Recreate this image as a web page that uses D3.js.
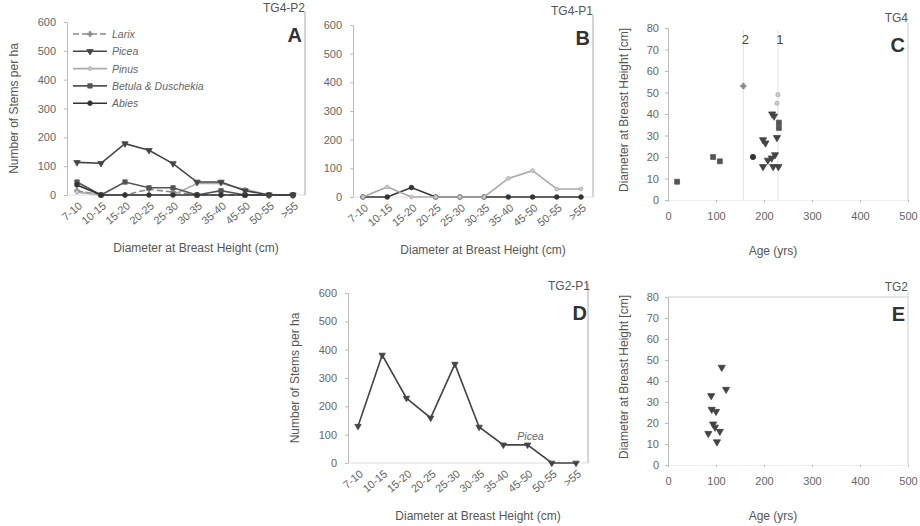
<!DOCTYPE html>
<html lang="en">
<head>
<meta charset="UTF-8">
<title>Stand structure TG4 / TG2</title>
<script src="https://d3js.org/d3.v7.min.js"></script>
<style>
  body { margin: 0; background: #fff; }
  svg text { font-family: "Liberation Sans", Arial, sans-serif; fill: #555; }
  .axis path, .axis line { stroke: #bbb; }
  .axis text { font-size: 11px; fill: #666; }
</style>
</head>
<body>
<div id="chart"></div>
<script>
// diameter classes (x categories of the line panels)
var sizeClasses = ["7-10", "10-15", "15-20", "20-25", "25-30", "30-35", "35-40", "45-50", "50-55", ">55"];
var stemTicks = [0, 100, 200, 300, 400, 500, 600];
var dbhTicks = [0, 10, 20, 30, 40, 50, 60, 70, 80];
var ageTicks = [0, 100, 200, 300, 400, 500];

// A: TG4-P2, stems per ha
var p2Larix  = [15, 0, 0, 20, 10, 0, 0, 0, 0, 0];
var p2Picea  = [113, 110, 178, 155, 109, 45, 45, 15, 0, 0];
var p2Pinus  = [10, 0, 0, 0, 0, 40, 40, 20, 0, 0];
var p2Betula = [45, 0, 45, 25, 25, 0, 15, 0, 0, 0];
var p2Abies  = [35, 0, 0, 0, 0, 0, 0, 0, 0, 0];

// B: TG4-P1
var p1Pinus = [0, 35, 0, 0, 0, 0, 65, 92, 28, 28];
var p1Abies = [0, 0, 33, 0, 0, 0, 0, 0, 0, 0];

// D: TG2-P1
var tg2Picea = [130, 381, 229, 159, 349, 127, 64, 64, 0, 0];

// C: TG4 age vs dbh
var tg4PiceaAge = [198, 203, 227, 198, 208, 216, 223, 219, 230, 217, 221];
var tg4PiceaDbh = [28, 26.5, 29, 15.5, 18.5, 19.5, 21, 15.5, 15.5, 40, 39];
var tg4BetulaAge = [19, 94, 108, 231, 231];
var tg4BetulaDbh = [8.5, 20, 18, 36, 33.5];
var tg4AbiesAge = [177];
var tg4AbiesDbh = [20];
var tg4PinusAge = [229, 227];
var tg4PinusDbh = [49, 45];
var tg4LarixAge = [157];
var tg4LarixDbh = [53];
var cohortAge = [157, 229];
var cohortLabel = ["2", "1"];

// E: TG2 age vs dbh
var tg2PiceaAge = [112, 121, 90, 91, 100, 94, 98, 84, 108, 102];
var tg2PiceaDbh = [46.5, 36, 33, 26.5, 25.5, 19.5, 18, 15, 16, 11];

var species = {
    Larix:  { color: "#888", dash: "6,3", symbol: d3.symbolCross, size: 16, fill: "#888", rot: 0 },
    Picea:  { color: "#444", dash: null, symbol: d3.symbolTriangle, size: 22, fill: "#444", rot: 180 },
    Pinus:  { color: "#aaa", dash: null, symbol: d3.symbolCircle, size: 14, fill: "#ccc", rot: 0 },
    Betula: { color: "#555", dash: null, symbol: d3.symbolSquare, size: 24, fill: "#555", rot: 0 },
    Abies:  { color: "#333", dash: null, symbol: d3.symbolCircle, size: 22, fill: "#333", rot: 0 }
}

var svg = d3.select("#chart").append("svg")
    .attr("width", 920)
    .attr("height", 526)

function label(x, y, tag, letter) {
    svg.append("text").attr("x", x).attr("y", y)
        .attr("text-anchor", "end").style("font-size", "12px").text(tag)
    svg.append("text").attr("x", x - 3).attr("y", y + 30)
        .attr("text-anchor", "end").style("font-size", "20px")
        .style("font-weight", "bold").style("fill", "#333").text(letter)
}

function marker(g, sp, x, y, k) {
    var s = species[sp]
    g.append("path")
        .attr("d", d3.symbol().type(s.symbol).size(s.size * (k || 1)))
        .attr("transform", "translate(" + x + "," + y + ") rotate(" + s.rot + ")")
        .attr("fill", s.fill)
        .attr("stroke", s.color)
        .attr("stroke-width", 0.8)
}

function linePanel(o) {
    var x = d3.scalePoint().domain(sizeClasses).range([o.x0 + 10, o.x1 - 12])
    var y = d3.scaleLinear().domain([0, 600]).range([o.y1, o.y0])
    var g = svg.append("g")

    g.append("g").attr("class", "axis")
        .attr("transform", "translate(" + o.x0 + ",0)")
        .call(d3.axisLeft(y).tickValues(stemTicks).tickSize(3).tickPadding(8))
    g.append("line").attr("x1", o.x0).attr("x2", o.x1).attr("y1", o.y1).attr("y2", o.y1)
        .attr("stroke", "#ddd")
    g.append("line").attr("x1", o.x1).attr("x2", o.x1).attr("y1", o.y0 - 10).attr("y2", o.y1)
        .attr("stroke", "#aaa")

    g.selectAll(".xl").data(sizeClasses).enter().append("text")
        .attr("text-anchor", "end")
        .attr("transform", function(d) { return "translate(" + (x(d) + 6) + "," + (o.y1 + 12) + ") rotate(-40)" })
        .style("font-size", "11px").style("fill", "#666")
        .text(function(d) { return d })

    o.series.forEach(function(s) {
        var sp = species[s.name]
        var line = d3.line().x(function(d, i) { return x(sizeClasses[i]) }).y(function(d) { return y(d) })
        g.append("path").datum(s.values)
            .attr("d", line).attr("fill", "none")
            .attr("stroke", sp.color).attr("stroke-width", 1.6)
            .attr("stroke-dasharray", sp.dash)
        s.values.forEach(function(v, i) { marker(g, s.name, x(sizeClasses[i]), y(v), 0.8) })
    })

    svg.append("text").attr("x", (o.x0 + o.x1) / 2 + 10).attr("y", o.y1 + 57)
        .attr("text-anchor", "middle").style("font-size", "12px").text("Diameter at Breast Height (cm)")
    if (o.ytitle) {
        svg.append("text").attr("transform", "translate(" + (o.x0 - 49) + "," + ((o.y0 + o.y1) / 2) + ") rotate(-90)")
            .attr("text-anchor", "middle").style("font-size", "12px").text("Number of Stems per ha")
    }
    return { x: x, y: y }
}

function scatterPanel(o) {
    var x = d3.scaleLinear().domain([0, 500]).range([o.x0, o.x1])
    var y = d3.scaleLinear().domain([0, 80]).range([o.y1, o.y0])
    var g = svg.append("g")

    if (o.cohorts) {
        o.cohorts.forEach(function(a, i) {
            g.append("line").attr("x1", x(a)).attr("x2", x(a)).attr("y1", o.y0 + 2).attr("y2", o.y1)
                .attr("stroke", "#e2e2e2")
            g.append("text").attr("x", x(a) + 2).attr("y", o.y0 + 16)
                .attr("text-anchor", "middle").style("font-size", "13px").style("fill", "#444")
                .text(cohortLabel[i])
        })
    }

    g.append("g").attr("class", "axis")
        .attr("transform", "translate(" + o.x0 + ",0)")
        .call(d3.axisLeft(y).tickValues(dbhTicks).tickSize(3).tickPadding(6))
    var xa = g.append("g").attr("class", "axis")
        .attr("transform", "translate(0," + o.y1 + ")")
        .call(d3.axisBottom(x).tickValues(ageTicks).tickSize(2).tickPadding(10))
    xa.select(".domain").style("stroke", "#eee")
    g.append("line").attr("x1", o.x1).attr("x2", o.x1).attr("y1", o.y0 - 5).attr("y2", o.y1)
        .attr("stroke", "#ccc")
    if (o.top) {
        g.append("line").attr("x1", o.x0).attr("x2", o.x1).attr("y1", o.y0).attr("y2", o.y0)
            .attr("stroke", "#ccc")
    }

    o.series.forEach(function(s) {
        s.age.forEach(function(a, i) { marker(g, s.name, x(a), y(s.dbh[i])) })
    })

    svg.append("text").attr("x", (o.x0 + o.x1) / 2 - 15).attr("y", o.y1 + 55)
        .attr("text-anchor", "middle").style("font-size", "12px").text("Age (yrs)")
    svg.append("text").attr("transform", "translate(" + (o.x0 - 40) + "," + ((o.y0 + o.y1) / 2 - 4) + ") rotate(-90)")
        .attr("text-anchor", "middle").style("font-size", "12px").text("Diameter at Breast Height [cm]")
}

// A
linePanel({ x0: 67, x1: 305, y0: 22, y1: 195, ytitle: true, series: [
    { name: "Larix", values: p2Larix },
    { name: "Pinus", values: p2Pinus },
    { name: "Betula", values: p2Betula },
    { name: "Abies", values: p2Abies },
    { name: "Picea", values: p2Picea }
] })
label(305, 12, "TG4-P2", "A")

// legend A
var legendNames = ["Larix", "Picea", "Pinus", "Betula", "Abies"]
var legendText = ["Larix", "Picea", "Pinus", "Betula & Duschekia", "Abies"]
legendNames.forEach(function(n, i) {
    var ly = 34 + i * 17.3
    var sp = species[n]
    svg.append("line").attr("x1", 73).attr("x2", 107).attr("y1", ly).attr("y2", ly)
        .attr("stroke", sp.color).attr("stroke-width", 1.6).attr("stroke-dasharray", sp.dash)
    marker(svg, n, 90, ly, 0.8)
    svg.append("text").attr("x", 112).attr("y", ly + 4)
        .style("font-size", "10.5px").style("font-style", "italic").style("fill", "#666")
        .text(legendText[i])
})

// B
linePanel({ x0: 353, x1: 593, y0: 25, y1: 197, ytitle: false, series: [
    { name: "Abies", values: p1Abies },
    { name: "Pinus", values: p1Pinus }
] })
label(593, 15, "TG4-P1", "B")

// C
scatterPanel({ x0: 668, x1: 908, y0: 28, y1: 200, cohorts: cohortAge, series: [
    { name: "Larix", age: tg4LarixAge, dbh: tg4LarixDbh },
    { name: "Pinus", age: tg4PinusAge, dbh: tg4PinusDbh },
    { name: "Betula", age: tg4BetulaAge, dbh: tg4BetulaDbh },
    { name: "Abies", age: tg4AbiesAge, dbh: tg4AbiesDbh },
    { name: "Picea", age: tg4PiceaAge, dbh: tg4PiceaDbh }
] })
label(908, 22, "TG4", "C")

// D
var dScales = linePanel({ x0: 348, x1: 588, y0: 293, y1: 463, ytitle: true, series: [
    { name: "Picea", values: tg2Picea }
] })
svg.append("text").attr("x", dScales.x("35-40") + 14).attr("y", dScales.y(100) + 5)
    .style("font-size", "10.5px").style("font-style", "italic").style("fill", "#666").text("Picea")
label(590, 290, "TG2-P1", "D")

// E
scatterPanel({ x0: 668, x1: 908, y0: 297, y1: 465, top: true, series: [
    { name: "Picea", age: tg2PiceaAge, dbh: tg2PiceaDbh }
] })
label(908, 291, "TG2", "E")
</script>
</body>
</html>
